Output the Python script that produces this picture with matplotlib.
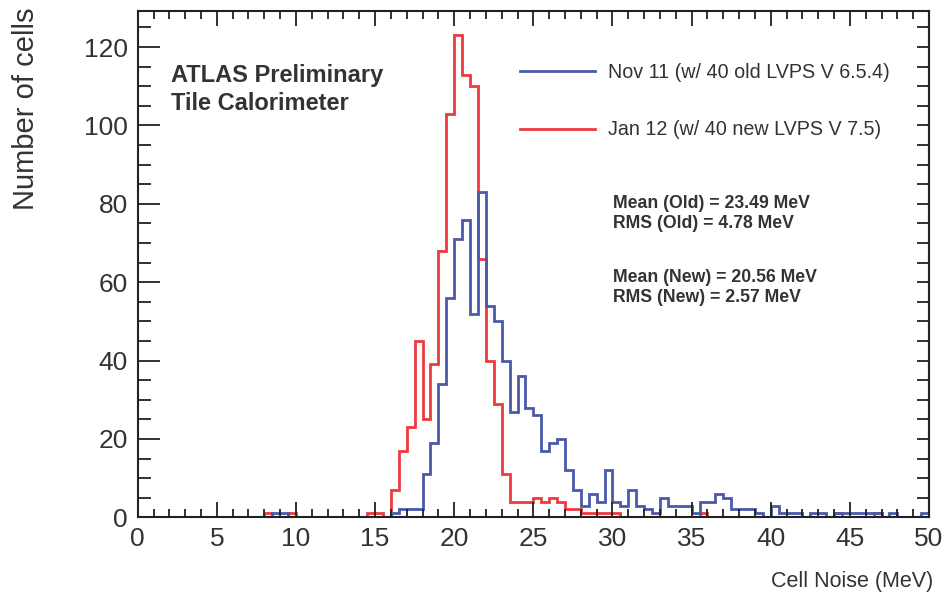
import numpy as np
import matplotlib
matplotlib.use('Agg')
import matplotlib.pyplot as plt
from matplotlib.lines import Line2D

plt.rcParams['font.family'] = ['Liberation Sans', 'DejaVu Sans']

## histogram data, 0.5 MeV bins from 0 to 50 MeV
edges = np.arange(0, 50.5, 0.5)

# Jan 12, new LVPS
new_counts = [0, 0, 0, 0, 0, 0, 0, 0, 0, 0, 0, 0, 0, 0, 0, 0, 1, 0, 0, 1,
              0, 0, 0, 0, 0, 0, 0, 0, 0, 1, 1, 0, 7, 17, 23, 45, 25, 39, 68, 103,
              123, 113, 110, 66, 40, 29, 11, 4, 4, 4, 5, 4, 5, 4, 2, 2, 1, 1, 1, 1,
              1, 0, 0, 0, 0, 0, 0, 0, 0, 0, 0, 1, 0, 0, 0, 0, 0, 0, 0, 0,
              0, 0, 0, 0, 0, 0, 0, 0, 1, 0, 0, 0, 0, 1, 0, 0, 0, 0, 0, 0]

# Nov 11, old LVPS
old_counts = [0, 0, 0, 0, 0, 0, 0, 0, 0, 0, 0, 0, 0, 0, 0, 0, 0, 1, 1, 0,
              0, 0, 0, 0, 0, 0, 0, 0, 0, 0, 0, 0, 1, 2, 2, 2, 11, 19, 34, 56,
              71, 76, 52, 83, 54, 50, 40, 27, 36, 28, 26, 17, 19, 20, 12, 7, 3, 6, 4, 12,
              4, 3, 7, 3, 2, 1, 5, 3, 3, 3, 1, 4, 4, 6, 5, 2, 2, 2, 1, 0,
              3, 1, 1, 1, 0, 1, 1, 0, 1, 1, 1, 1, 1, 1, 0, 1, 0, 0, 0, 1]

labels = ['Nov 11 (w/ 40 old LVPS V 6.5.4)', 'Jan 12 (w/ 40 new LVPS V 7.5)']
stats_old = ['Mean (Old) = 23.49 MeV', 'RMS (Old) = 4.78 MeV']
stats_new = ['Mean (New) = 20.56 MeV', 'RMS (New) = 2.57 MeV']

blue = '#4a5aab'
red = '#ee3a3d'
txt = '#333333'

fig = plt.figure(figsize=(9.47, 6.03), dpi=100)
ax = fig.add_axes([0.1454, 0.1421, 0.8356, 0.8396])

ax.stairs(new_counts, edges, color=red, lw=2.0)
ax.stairs(old_counts, edges, color=blue, lw=2.0)

ax.set_xlim(0, 50)
ax.set_ylim(0, 129.2)
ax.set_xticks(np.arange(0, 51, 5))
ax.set_xticks(np.arange(0, 51, 1), minor=True)
ax.set_yticks(np.arange(0, 121, 20))
ax.set_yticks(np.arange(0, 129, 5), minor=True)

for s in ax.spines.values():
    s.set_linewidth(1.5)
    s.set_color('#222222')

ax.tick_params(axis='both', which='both', direction='in', top=True, right=False,
               width=1.3, color='#222222', labelcolor=txt, labelsize=19)
ax.tick_params(axis='x', which='major', length=11, pad=7)
ax.tick_params(axis='x', which='minor', length=6)
ax.tick_params(axis='y', which='major', length=16, pad=7)
ax.tick_params(axis='y', which='minor', length=9)

# right side: all ticks the same short length
ax2 = ax.secondary_yaxis('right')
ax2.set_yticks(np.arange(0, 121, 20))
ax2.set_yticks(np.arange(0, 129, 5), minor=True)
ax2.set_yticklabels([])
ax2.spines['right'].set_linewidth(1.5)
ax2.spines['right'].set_color('#222222')
ax2.tick_params(which='both', direction='in', length=9, width=1.3, color='#222222')

fig.text(933 / 947, 1 - 582 / 603, 'Cell Noise (MeV)', ha='right', va='center',
         fontsize=15.5, color=txt)
fig.text(26 / 947, 1 - 8 / 603, 'Number of cells', ha='center', va='top',
         rotation=90, fontsize=21, color=txt)

fig.text(171 / 947, 1 - 82 / 603, 'ATLAS Preliminary', fontsize=17,
         fontweight='bold', color=txt)
fig.text(171 / 947, 1 - 110 / 603, 'Tile Calorimeter', fontsize=17,
         fontweight='bold', color=txt)

handles = [Line2D([], [], color=blue, lw=2.0), Line2D([], [], color=red, lw=2.0)]
fig.legend(handles, labels, loc='upper left', bbox_to_anchor=(520 / 947, 1 - 63 / 603),
           frameon=False, fontsize=14.2, handlelength=3.8, handletextpad=0.65,
           labelspacing=1.95, borderpad=0, borderaxespad=0, labelcolor=txt)

fig.text(613 / 947, 1 - 204 / 603, stats_old[0], fontsize=12.7, fontweight='bold',
         va='center', color=txt)
fig.text(613 / 947, 1 - 223 / 603, stats_old[1], fontsize=12.7, fontweight='bold',
         va='center', color=txt)
fig.text(613 / 947, 1 - 277 / 603, stats_new[0], fontsize=12.7, fontweight='bold',
         va='center', color=txt)
fig.text(613 / 947, 1 - 297 / 603, stats_new[1], fontsize=12.7, fontweight='bold',
         va='center', color=txt)

fig.savefig('out.png', dpi=100)
